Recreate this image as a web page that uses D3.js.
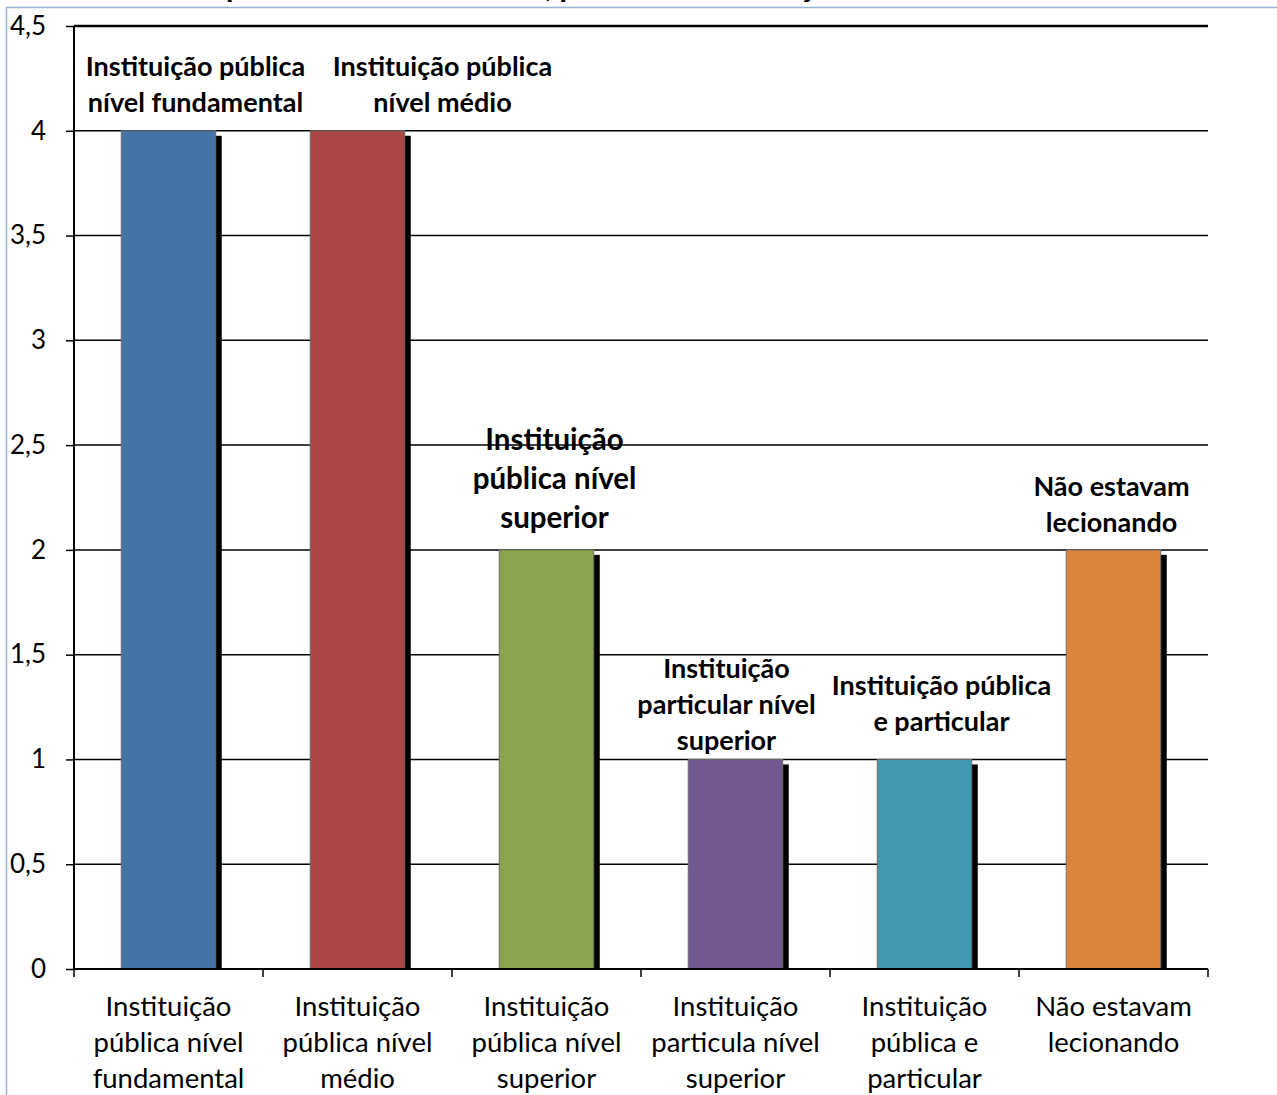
<!DOCTYPE html>
<html>
<head>
<meta charset="utf-8">
<script src="https://cdn.jsdelivr.net/npm/d3@7"></script>
<style>
  html, body { margin: 0; padding: 0; background: #fff; }
  svg { display: block; }
  text { font-family: Lato, "Open Sans", "DejaVu Sans", sans-serif; fill: #000; }
</style>
</head>
<body>
<svg id="chart" width="1277" height="1095"></svg>
<script>
// Categories as written under the x axis (one entry per line)
const axisLabels = [
  ["Instituição", "pública nível", "fundamental"],
  ["Instituição", "pública nível", "médio"],
  ["Instituição", "pública nível", "superior"],
  ["Instituição", "particula nível", "superior"],
  ["Instituição", "pública e", "particular"],
  ["Não estavam", "lecionando"]
];

// Data labels printed above each bar
const barLabels = [
  ["Instituição pública", "nível fundamental"],
  ["Instituição pública", "nível médio"],
  ["Instituição", "pública nível", "superior"],
  ["Instituição", "particular nível", "superior"],
  ["Instituição pública", "e particular"],
  ["Não estavam", "lecionando"]
];

// Number of respondents per category
const values = [4, 4, 2, 1, 1, 2];

// Bar fill colours
const colors = ["#4572A7", "#AA4643", "#89A54E", "#71588F", "#4198AF", "#DB843D"];

// Y axis ticks
const yTicks = [0, 0.5, 1, 1.5, 2, 2.5, 3, 3.5, 4, 4.5];

const chartTitle = "Época da coleta de dados, por nível e instituição de ensino";

// Label typography per bar: font size, line spacing, gap above the bar, horizontal shift
const labelStyle = [
  { size: 27, lh: 36, gap: 19, dx: 27 },
  { size: 27, lh: 36, gap: 19, dx: 85 },
  { size: 29.5, lh: 39, gap: 22, dx: 8 },
  { size: 27, lh: 36, gap: 9, dx: -9 },
  { size: 27, lh: 36, gap: 28, dx: 17 },
  { size: 27, lh: 36, gap: 18, dx: -2 }
];

const svg = d3.select("#chart");
const margin = { left: 74, right: 1208, top: 26, bottom: 969 };

const keys = values.map((_, i) => i);
const x = d3.scaleBand()
  .domain(keys)
  .range([margin.left, margin.right])
  .paddingInner(0.5)
  .paddingOuter(0.25);

// boundaries of each category slot, used for the x tick marks
const step = (margin.right - margin.left) / keys.length;

const y = d3.scaleLinear()
  .domain([0, 4.5])
  .range([margin.bottom, margin.top]);

// outer frame of the chart area
svg.append("path")
  .attr("d", "M6.5,1095 L6.5,7.5 L1277,7.5")
  .attr("fill", "none")
  .attr("stroke", "#95B3D7")
  .attr("stroke-width", 1.5);

// title (sits mostly above the frame)
svg.append("text")
  .attr("x", 595)
  .attr("y", -3)
  .attr("text-anchor", "middle")
  .attr("font-weight", "bold")
  .attr("font-size", 30)
  .text(chartTitle);

// horizontal gridlines
svg.append("g")
  .selectAll("line")
  .data(yTicks.filter(t => t > 0))
  .join("line")
  .attr("x1", margin.left)
  .attr("x2", margin.right)
  .attr("y1", d => y(d))
  .attr("y2", d => y(d))
  .attr("stroke", "#000")
  .attr("stroke-width", d => d === 4.5 ? 2.5 : 1.5);

// y axis
const yAxis = d3.axisLeft(y)
  .tickValues(yTicks)
  .tickSize(8)
  .tickPadding(20)
  .tickFormat(d => String(d).replace(".", ","));

const gy = svg.append("g")
  .attr("transform", `translate(${margin.left},0)`)
  .call(yAxis);
gy.select(".domain").attr("stroke", "#000").attr("stroke-width", 2)
  .attr("d", `M0,${margin.top}V${margin.bottom}`);
gy.selectAll(".tick line").attr("stroke", "#000").attr("stroke-width", 1.5);
gy.selectAll(".tick text")
  .attr("font-size", 26)
  .attr("font-family", "Lato, 'Open Sans', sans-serif")
  .attr("fill", "#000");

// shadows behind bars, clipped at the baseline
svg.append("clipPath").attr("id", "plotClip")
  .append("rect")
  .attr("x", 0).attr("y", 0)
  .attr("width", 1277).attr("height", margin.bottom + 1);

svg.append("g")
  .attr("clip-path", "url(#plotClip)")
  .selectAll("rect")
  .data(keys)
  .join("rect")
  .attr("x", i => x(i) + 6)
  .attr("y", i => y(values[i]) + 5)
  .attr("width", x.bandwidth())
  .attr("height", i => y(0) - y(values[i]))
  .attr("fill", "#000");

// bars
svg.append("g")
  .selectAll("rect")
  .data(keys)
  .join("rect")
  .attr("x", i => x(i))
  .attr("y", i => y(values[i]))
  .attr("width", x.bandwidth())
  .attr("height", i => y(0) - y(values[i]))
  .attr("fill", i => colors[i])
  .attr("stroke", "#6b6b6b")
  .attr("stroke-width", 1);

// x axis baseline and category separators
svg.append("line")
  .attr("x1", margin.left).attr("x2", margin.right)
  .attr("y1", y(0)).attr("y2", y(0))
  .attr("stroke", "#000").attr("stroke-width", 2);

svg.append("g")
  .selectAll("line")
  .data(d3.range(keys.length + 1))
  .join("line")
  .attr("x1", k => margin.left + k * step)
  .attr("x2", k => margin.left + k * step)
  .attr("y1", y(0))
  .attr("y2", y(0) + 8)
  .attr("stroke", "#000")
  .attr("stroke-width", 1.5);

// category names under the axis
const xl = svg.append("g")
  .selectAll("text")
  .data(keys)
  .join("text")
  .attr("text-anchor", "middle")
  .attr("font-size", 27.5);
xl.each(function (i) {
  const t = d3.select(this);
  axisLabels[i].forEach((line, j) => {
    t.append("tspan")
      .attr("x", x(i) + x.bandwidth() / 2)
      .attr("y", y(0) + 47 + j * 36)
      .text(line);
  });
});

// value labels above bars
const bl = svg.append("g")
  .selectAll("text")
  .data(keys)
  .join("text")
  .attr("text-anchor", "middle")
  .attr("font-weight", "bold")
  .attr("font-size", i => labelStyle[i].size);
bl.each(function (i) {
  const t = d3.select(this);
  const st = labelStyle[i];
  const n = barLabels[i].length;
  barLabels[i].forEach((line, j) => {
    t.append("tspan")
      .attr("x", x(i) + x.bandwidth() / 2 + st.dx)
      .attr("y", y(values[i]) - st.gap - (n - 1 - j) * st.lh)
      .text(line);
  });
});
</script>
</body>
</html>
